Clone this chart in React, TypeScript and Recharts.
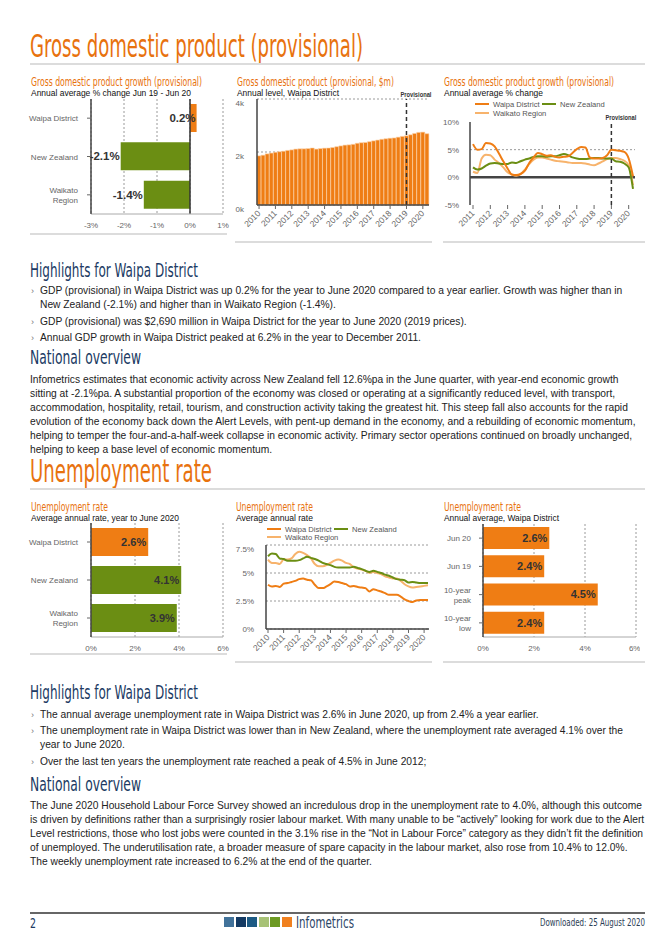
import React from 'react'
import { BarChart, Bar, LineChart, Line, XAxis, YAxis, CartesianGrid, ReferenceLine, Cell, LabelList } from 'recharts'

const ORANGE = '#ef7d14'
const GREEN = '#6b8e13'
const LIGHT = '#f7b36c'
const TITLE = '#e8720e'
const NAVY = '#203a63'
const SANS = '"Liberation Sans", Arial, sans-serif'
const COND = '"Liberation Sans Narrow", "DejaVu Sans Condensed", Roboto, sans-serif'

// GDP growth, year to Jun 2020
const gdpAreas = ['Waipa District', 'New Zealand', 'Waikato\nRegion']
const gdpGrowth = [0.2, -2.1, -1.4]
const gdpColors = [ORANGE, GREEN, GREEN]

// GDP level ($m), quarterly Mar 2010 - Jun 2020
const gdpLevel = [
  1855, 1880, 1930, 1960, 1990, 2010, 2030, 2060, 2080, 2110, 2120, 2120,
  2130, 2150, 2110, 2130, 2145, 2150, 2170, 2200, 2230, 2260, 2270, 2290,
  2330, 2350, 2360, 2390, 2420, 2450, 2480, 2500, 2520, 2530, 2560, 2590,
  2610, 2650, 2700, 2740, 2750, 2690,
]

// GDP growth %, quarterly Mar 2011 - Jun 2020
const growthWaipa = [
  6.0, 5.0, 5.1, 6.2, 6.1, 5.6, 4.3, 2.9, 1.6, 0.5, 0.4, 0.6,
  1.2, 2.6, 3.6, 4.4, 4.2, 3.9, 4.0, 3.7, 3.6, 3.7, 3.8, 4.4,
  5.1, 5.5, 5.4, 3.6, 3.4, 3.4, 3.5, 4.0, 5.0, 4.9, 4.8, 4.6, 3.4, 0.2,
]
const growthNZ = [
  1.8, 1.4, 1.6, 2.1, 2.5, 2.6, 2.5, 2.4, 2.4, 2.7, 2.6, 2.9,
  3.2, 3.4, 3.7, 3.8, 3.8, 3.7, 3.8, 3.8, 4.0, 4.2, 4.0, 3.6,
  3.4, 3.3, 3.3, 3.4, 3.5, 3.5, 3.4, 3.4, 3.4, 2.9, 2.8, 2.5, 1.8, -2.1,
]
const growthWaikato = [
  1.0, 0.8, 3.4, 4.1, 4.0, 3.2, 2.6, 1.8, 0.9, 0.5, 0.3, 0.6,
  1.4, 2.4, 3.2, 3.6, 3.6, 3.4, 3.2, 3.0, 2.9, 2.8, 2.7, 2.6,
  2.6, 2.6, 2.5, 2.3, 2.2, 2.5, 2.9, 3.3, 3.5, 3.5, 3.3, 3.0, 2.2, -1.4,
]

// Unemployment rate, year to Jun 2020
const unempAreas = ['Waipa District', 'New Zealand', 'Waikato\nRegion']
const unempRate = [2.6, 4.1, 3.9]
const unempColors = [ORANGE, GREEN, GREEN]

// Unemployment rate %, quarterly Mar 2010 - Jun 2020
const unempWaipa = [
  3.95, 3.8, 3.85, 3.75, 4.05, 4.1, 4.2, 4.3, 4.45, 4.5, 4.4, 4.35,
  3.95, 3.65, 3.65, 3.8, 4.0, 4.25, 4.2, 4.1, 4.0, 3.8, 3.85, 3.75,
  3.7, 3.65, 3.35, 3.55, 3.45, 3.35, 3.2, 3.05, 3.05, 3.05, 2.9, 2.65,
  2.5, 2.4, 2.55, 2.6, 2.6, 2.6,
]
const unempNZ = [
  6.5, 6.75, 6.7, 6.3, 6.25, 6.1, 6.1, 6.1, 6.15, 6.3, 6.45, 6.35,
  6.25, 6.1, 5.9, 5.8, 5.7, 5.55, 5.5, 5.5, 5.5, 5.5, 5.55, 5.45,
  5.35, 5.2, 5.1, 5.2, 5.1, 5.0, 4.85, 4.75, 4.6, 4.45, 4.4, 4.35,
  4.15, 4.2, 4.15, 4.1, 4.1, 4.1,
]
const unempWaikato = [
  6.2, 5.9, 5.9, 5.8, 6.2, 6.2, 6.3, 6.7, 6.9, 6.8, 6.6, 6.3,
  5.8, 5.6, 5.6, 5.7, 5.9, 6.1, 6.2, 6.1, 5.9, 5.8, 5.5, 5.4,
  5.3, 5.2, 5.0, 5.1, 5.0, 4.9, 4.7, 4.6, 4.5, 4.5, 4.3, 4.0,
  3.8, 3.7, 3.75, 3.8, 3.85, 3.9,
]

// Unemployment, Waipa District
const waipaPeriods = ['Jun 20', 'Jun 19', '10-year\npeak', '10-year\nlow']
const waipaRates = [2.6, 2.4, 4.5, 2.4]

const MONTHS = ['Mar', 'Jun', 'Sep', 'Dec']
const quarters = (startYear: number, count: number) =>
  Array.from({ length: count }, (_, i) => `${MONTHS[i % 4]} ${startYear + Math.floor(i / 4)}`)

const levelQuarters = quarters(2010, gdpLevel.length)
const growthQuarters = quarters(2011, growthWaipa.length)
const unempQuarters = quarters(2010, unempWaipa.length)

const gdpGrowthData = gdpAreas.map((name, i) => ({ name, value: gdpGrowth[i] }))
const gdpLevelData = levelQuarters.map((q, i) => ({ q, value: gdpLevel[i] }))
const growthData = growthQuarters.map((q, i) => ({ q, waipa: growthWaipa[i], nz: growthNZ[i], waikato: growthWaikato[i] }))
const unempBarData = unempAreas.map((name, i) => ({ name, value: unempRate[i] }))
const unempLineData = unempQuarters.map((q, i) => ({ q, waipa: unempWaipa[i], nz: unempNZ[i], waikato: unempWaikato[i] }))
const waipaData = waipaPeriods.map((name, i) => ({ name, value: waipaRates[i] }))

const tickStyle = { fontSize: 8, fill: '#666', fontFamily: SANS }

// y value tick, optionally nudged down
const valueTick = (shift: number) => (props: any) => {
  const { x, y, payload, tickFormatter } = props
  return (
    <text x={x} y={y + shift} dy="0.36em" textAnchor="end" fontSize={8} fill="#666" fontFamily={SANS}>
      {tickFormatter ? tickFormatter(payload.value) : payload.value}
    </text>
  )
}

const CatTick = (props: any) => {
  const { x, y, payload } = props
  const lines = String(payload.value).split('\n')
  return (
    <text x={x} y={y} textAnchor="end" fontSize={8} fill="#666" fontFamily={SANS}>
      {lines.map((l, i) => (
        <tspan key={i} x={x} dy={i === 0 ? 3 - (lines.length - 1) * 5 : 10}>{l}</tspan>
      ))}
    </text>
  )
}

const YearTick = (props: any) => {
  const { x, y, payload } = props
  const yr = String(payload.value).slice(4)
  return (
    <text x={x + 2} y={y + 3} transform={`rotate(-45 ${x + 2} ${y + 3})`} textAnchor="end" fontSize={8.5} fill="#666" fontFamily={SANS}>
      {yr}
    </text>
  )
}

const endLabel = (inset: number, size: number) => (props: any) => {
  const { x, y, width, height, value } = props
  const a = Number(x)
  const w = Number(width)
  const end = value >= 0 ? Math.max(a, a + w) : Math.min(a, a + w)
  return (
    <text x={end - inset} y={Number(y) + Number(height) / 2} dy="0.36em" textAnchor="end" fontSize={size} fontWeight="bold" fill="#333" fontFamily={SANS}>
      {`${value.toFixed(1)}%`}
    </text>
  )
}

const provLabel = (props: any) => {
  const vb = props.viewBox || {}
  return (
    <text x={vb.x - 6} y={vb.y - 2} fontSize={7.5} fontWeight="bold" fill="#333" fontFamily={SANS} textLength={31} lengthAdjust="spacingAndGlyphs">
      Provisional
    </text>
  )
}

// text squeezed to the width it has on the page
const Fit = ({ x, base, w, size, color, children, family = COND, weight = 'normal' }: any) => (
  <svg style={{ position: 'absolute', left: x, top: base - size * 0.78, overflow: 'visible' }} width={w + 2} height={size}>
    <text x={0} y={size * 0.78} fontSize={size} fill={color} fontFamily={family} fontWeight={weight} textLength={w} lengthAdjust="spacingAndGlyphs">
      {children}
    </text>
  </svg>
)

const Rule = ({ x, y, w, h = 2, color = '#dcdcdc' }: any) => (
  <div style={{ position: 'absolute', left: x, top: y, width: w, height: h, background: color }} />
)

const TextLine = ({ x = 30, y, children }: any) => (
  <div style={{ position: 'absolute', left: x, top: y - 6, height: 12, lineHeight: '12px', fontSize: 10.25, whiteSpace: 'nowrap', color: '#222' }}>
    {children}
  </div>
)

const Bullet = ({ y }: any) => (
  <div style={{ position: 'absolute', left: 31, top: y - 6, lineHeight: '12px', fontSize: 9, color: '#777' }}>›</div>
)

const LegendKey = ({ x, y, color, label }: any) => (
  <div style={{ position: 'absolute', left: x, top: y - 4, height: 8, display: 'flex', alignItems: 'center', whiteSpace: 'nowrap', fontSize: 7.6, color: '#555' }}>
    <div style={{ width: 14, height: 2, background: color, marginRight: 4 }} />
    <span>{label}</span>
  </div>
)

const Box = ({ x, y, children }: any) => (
  <div style={{ position: 'absolute', left: x, top: y }}>{children}</div>
)

function GdpGrowthBars() {
  return (
    <BarChart width={205} height={145} data={gdpGrowthData} layout="vertical" margin={{ top: 4, right: 7, bottom: 0, left: 0 }} style={{ fontFamily: SANS }}>
      <CartesianGrid horizontal={false} strokeDasharray="2 2" stroke="#9a9a9a" />
      <XAxis type="number" domain={[-3, 1]} ticks={[-3, -2, -1, 0, 1]} tickFormatter={(v: number) => `${v}%`} tick={tickStyle} height={26} axisLine={{ stroke: '#aaa' }} tickLine={false} />
      <YAxis type="category" dataKey="name" width={66} interval={0} tick={<CatTick />} tickSize={4} tickMargin={9} axisLine={{ stroke: '#444', strokeWidth: 1.5 }} tickLine={{ stroke: '#666' }} />
      <ReferenceLine x={0} stroke="#333" strokeWidth={1.5} />
      <Bar dataKey="value" barSize={28} isAnimationActive={false}>
        {gdpGrowthData.map((_, i) => <Cell key={i} fill={gdpColors[i]} />)}
        <LabelList dataKey="value" content={endLabel(1, 11.5)} />
      </Bar>
    </BarChart>
  )
}

function GdpLevelBars() {
  return (
    <BarChart width={200} height={156} data={gdpLevelData} margin={{ top: 13, right: 3, bottom: 0, left: 0 }} barCategoryGap={0} style={{ fontFamily: SANS }}>
      <CartesianGrid vertical={false} strokeDasharray="2 2" stroke="#9a9a9a" />
      <XAxis dataKey="q" interval={3} height={37} tick={<YearTick />} tickSize={4} tickMargin={2} axisLine={{ stroke: '#444', strokeWidth: 1.5 }} tickLine={{ stroke: '#666' }} />
      <YAxis domain={[0, 4000]} ticks={[0, 2000, 4000]} tickFormatter={(v: number) => `${v / 1000}k`} width={25} tick={valueTick(4)} tickSize={0} tickMargin={13} axisLine={{ stroke: '#444', strokeWidth: 1.5 }} tickLine={false} />
      <Bar dataKey="value" fill={ORANGE} stroke="#fbd3ab" strokeWidth={0.6} isAnimationActive={false} />
      <ReferenceLine x="Mar 2019" stroke="#333" strokeWidth={1.5} strokeDasharray="4 3" label={provLabel} />
    </BarChart>
  )
}

function GdpGrowthLines() {
  return (
    <LineChart width={200} height={145} data={growthData} margin={{ top: 24, right: 5, bottom: 0, left: 0 }} style={{ fontFamily: SANS }}>
      <XAxis dataKey="q" interval={3} height={38} padding={{ left: 3, right: 2 }} tick={<YearTick />} tickSize={4} tickMargin={2} axisLine={false} tickLine={{ stroke: '#666' }} />
      <YAxis domain={[-5, 10]} ticks={[-5, 0, 5, 10]} tickFormatter={(v: number) => `${v}%`} width={30} tick={valueTick(0)} tickSize={0} tickMargin={11} axisLine={{ stroke: '#444', strokeWidth: 1.5 }} tickLine={false} />
      <ReferenceLine y={5} stroke="#9a9a9a" strokeDasharray="2 2" />
      <ReferenceLine y={0} stroke="#444" strokeWidth={2.5} />
      <Line dataKey="waikato" stroke={LIGHT} strokeWidth={2} dot={false} type="monotone" isAnimationActive={false} />
      <Line dataKey="nz" stroke={GREEN} strokeWidth={2} dot={false} type="monotone" isAnimationActive={false} />
      <Line dataKey="waipa" stroke={ORANGE} strokeWidth={2} dot={false} type="monotone" isAnimationActive={false} />
      <ReferenceLine x="Mar 2019" stroke="#333" strokeWidth={1.5} strokeDasharray="4 3" label={provLabel} />
    </LineChart>
  )
}

function UnempBars() {
  return (
    <BarChart width={205} height={141} data={unempBarData} layout="vertical" margin={{ top: 4, right: 7, bottom: 0, left: 0 }} style={{ fontFamily: SANS }}>
      <CartesianGrid horizontal={false} strokeDasharray="2 2" stroke="#9a9a9a" />
      <XAxis type="number" domain={[0, 6]} ticks={[0, 2, 4, 6]} tickFormatter={(v: number) => `${v}%`} tick={tickStyle} height={23} axisLine={{ stroke: '#aaa' }} tickLine={false} />
      <YAxis type="category" dataKey="name" width={66} interval={0} tick={<CatTick />} tickSize={4} tickMargin={9} axisLine={{ stroke: '#444', strokeWidth: 1.5 }} tickLine={{ stroke: '#666' }} />
      <Bar dataKey="value" barSize={28} isAnimationActive={false}>
        {unempBarData.map((_, i) => <Cell key={i} fill={unempColors[i]} />)}
        <LabelList dataKey="value" content={endLabel(2, 11)} />
      </Bar>
    </BarChart>
  )
}

function UnempLines() {
  return (
    <LineChart width={200} height={125} data={unempLineData} margin={{ top: 5, right: 3, bottom: 0, left: 0 }} style={{ fontFamily: SANS }}>
      <CartesianGrid vertical={false} strokeDasharray="2 2" stroke="#9a9a9a" />
      <XAxis dataKey="q" interval={3} height={36} padding={{ left: 2, right: 1 }} tick={<YearTick />} tickSize={4} tickMargin={2} axisLine={{ stroke: '#444', strokeWidth: 1.5 }} tickLine={{ stroke: '#666' }} />
      <YAxis domain={[0, 7.5]} ticks={[0, 2.5, 5, 7.5]} tickFormatter={(v: number) => `${v}%`} width={34} tick={valueTick(0)} tickSize={0} tickMargin={12} axisLine={{ stroke: '#444', strokeWidth: 1.5 }} tickLine={false} />
      <Line dataKey="waikato" stroke={LIGHT} strokeWidth={2} dot={false} type="monotone" isAnimationActive={false} />
      <Line dataKey="nz" stroke={GREEN} strokeWidth={2} dot={false} type="monotone" isAnimationActive={false} />
      <Line dataKey="waipa" stroke={ORANGE} strokeWidth={2} dot={false} type="monotone" isAnimationActive={false} />
    </LineChart>
  )
}

function WaipaBars() {
  return (
    <BarChart width={200} height={140} data={waipaData} layout="vertical" margin={{ top: 4, right: 4, bottom: 0, left: 0 }} style={{ fontFamily: SANS }}>
      <CartesianGrid horizontal={false} strokeDasharray="2 2" stroke="#9a9a9a" />
      <XAxis type="number" domain={[0, 6]} ticks={[0, 2, 4, 6]} tickFormatter={(v: number) => `${v}%`} tick={tickStyle} height={23} axisLine={{ stroke: '#aaa' }} tickLine={false} />
      <YAxis type="category" dataKey="name" width={43} interval={0} tick={<CatTick />} tickSize={4} tickMargin={8} axisLine={{ stroke: '#444', strokeWidth: 1.5 }} tickLine={{ stroke: '#666' }} />
      <Bar dataKey="value" barSize={22} fill={ORANGE} isAnimationActive={false}>
        <LabelList dataKey="value" content={endLabel(2, 11)} />
      </Bar>
    </BarChart>
  )
}

export default function App() {
  return (
    <div style={{ position: 'absolute', left: 0, top: 0, width: 668, height: 946, background: '#fff', overflow: 'hidden', fontFamily: SANS }}>
      {/* GDP section */}
      <Fit x={30} base={57} w={333} size={32} color={TITLE}>Gross domestic product (provisional)</Fit>
      <Rule x={30} y={63} w={615} />

      <Fit x={31} base={86} w={171} size={12} color={TITLE}>Gross domestic product growth (provisional)</Fit>
      <Fit x={31} base={96} w={160} size={9.5} color="#111" family={SANS}>Annual average % change Jun 19 - Jun 20</Fit>
      <Fit x={237} base={86} w={157} size={12} color={TITLE}>Gross domestic product (provisional, $m)</Fit>
      <Fit x={237} base={96} w={102} size={9.5} color="#111" family={SANS}>Annual level, Waipa District</Fit>
      <Fit x={444} base={86} w={170} size={12} color={TITLE}>Gross domestic product growth (provisional)</Fit>
      <Fit x={444} base={96} w={99} size={9.5} color="#111" family={SANS}>Annual average % change</Fit>

      <Box x={25} y={95}><GdpGrowthBars /></Box>
      <Box x={232} y={86}><GdpLevelBars /></Box>
      <Box x={440} y={98}><GdpGrowthLines /></Box>
      <LegendKey x={475} y={104} color={ORANGE} label="Waipa District" />
      <LegendKey x={542} y={104} color={GREEN} label="New Zealand" />
      <LegendKey x={475} y={113} color={LIGHT} label="Waikato Region" />

      <Rule x={30} y={233} w={197} />
      <Rule x={235} y={241} w={197} />
      <Rule x={443} y={241} w={202} />

      <Fit x={30} base={277} w={168} size={20} color={NAVY}>Highlights for Waipa District</Fit>
      <Bullet y={291} />
      <TextLine x={40} y={291}>GDP (provisional) in Waipa District was up 0.2% for the year to June 2020 compared to a year earlier. Growth was higher than in</TextLine>
      <TextLine x={40} y={305}>New Zealand (-2.1%) and higher than in Waikato Region (-1.4%).</TextLine>
      <Bullet y={322} />
      <TextLine x={40} y={322}>GDP (provisional) was $2,690 million in Waipa District for the year to June 2020 (2019 prices).</TextLine>
      <Bullet y={338} />
      <TextLine x={40} y={338}>Annual GDP growth in Waipa District peaked at 6.2% in the year to December 2011.</TextLine>

      <Fit x={30} base={364} w={111} size={20} color={NAVY}>National overview</Fit>
      <TextLine y={380}>Infometrics estimates that economic activity across New Zealand fell 12.6%pa in the June quarter, with year-end economic growth</TextLine>
      <TextLine y={394}>sitting at -2.1%pa. A substantial proportion of the economy was closed or operating at a significantly reduced level, with transport,</TextLine>
      <TextLine y={408}>accommodation, hospitality, retail, tourism, and construction activity taking the greatest hit. This steep fall also accounts for the rapid</TextLine>
      <TextLine y={422}>evolution of the economy back down the Alert Levels, with pent-up demand in the economy, and a rebuilding of economic momentum,</TextLine>
      <TextLine y={436}>helping to temper the four-and-a-half-week collapse in economic activity. Primary sector operations continued on broadly unchanged,</TextLine>
      <TextLine y={450}>helping to keep a base level of economic momentum.</TextLine>

      {/* Unemployment section */}
      <Fit x={30} base={482} w={182} size={32} color={TITLE}>Unemployment rate</Fit>
      <Rule x={30} y={488} w={615} />

      <Fit x={31} base={511} w={77} size={12} color={TITLE}>Unemployment rate</Fit>
      <Fit x={31} base={521} w={148} size={9.5} color="#111" family={SANS}>Average annual rate, year to June 2020</Fit>
      <Fit x={236} base={511} w={77} size={12} color={TITLE}>Unemployment rate</Fit>
      <Fit x={236} base={521} w={77} size={9.5} color="#111" family={SANS}>Average annual rate</Fit>
      <Fit x={444} base={511} w={77} size={12} color={TITLE}>Unemployment rate</Fit>
      <Fit x={444} base={521} w={115} size={9.5} color="#111" family={SANS}>Annual average, Waipa District</Fit>

      <Box x={25} y={519}><UnempBars /></Box>
      <Box x={232} y={540}><UnempLines /></Box>
      <LegendKey x={267} y={529} color={ORANGE} label="Waipa District" />
      <LegendKey x={334} y={529} color={GREEN} label="New Zealand" />
      <LegendKey x={267} y={537} color={LIGHT} label="Waikato Region" />
      <Box x={440} y={520}><WaipaBars /></Box>

      <Rule x={30} y={653} w={197} />
      <Rule x={235} y={661} w={197} />
      <Rule x={443} y={661} w={202} />

      <Fit x={30} base={699} w={168} size={20} color={NAVY}>Highlights for Waipa District</Fit>
      <Bullet y={715} />
      <TextLine x={40} y={715}>The annual average unemployment rate in Waipa District was 2.6% in June 2020, up from 2.4% a year earlier.</TextLine>
      <Bullet y={731} />
      <TextLine x={40} y={731}>The unemployment rate in Waipa District was lower than in New Zealand, where the unemployment rate averaged 4.1% over the</TextLine>
      <TextLine x={40} y={745}>year to June 2020.</TextLine>
      <Bullet y={762} />
      <TextLine x={40} y={762}>Over the last ten years the unemployment rate reached a peak of 4.5% in June 2012;</TextLine>

      <Fit x={30} base={791} w={111} size={20} color={NAVY}>National overview</Fit>
      <TextLine y={806}>The June 2020 Household Labour Force Survey showed an incredulous drop in the unemployment rate to 4.0%, although this outcome</TextLine>
      <TextLine y={820}>is driven by definitions rather than a surprisingly rosier labour market. With many unable to be “actively” looking for work due to the Alert</TextLine>
      <TextLine y={834}>Level restrictions, those who lost jobs were counted in the 3.1% rise in the “Not in Labour Force” category as they didn’t fit the definition</TextLine>
      <TextLine y={848}>of unemployed. The underutilisation rate, a broader measure of spare capacity in the labour market, also rose from 10.4% to 12.0%.</TextLine>
      <TextLine y={862}>The weekly unemployment rate increased to 6.2% at the end of the quarter.</TextLine>

      {/* Footer */}
      <Rule x={30} y={912} w={615} h={1.5} color="#666" />
      <Fit x={30} base={928} w={6} size={14} color={NAVY}>2</Fit>
      {['#41729a', '#143a63', '#1d5a84', '#a7c276', '#6d9a23', '#f0801f'].map((c, i) => (
        <div key={c} style={{ position: 'absolute', left: 224 + i * 11.5, top: 917, width: 10, height: 10, background: c }} />
      ))}
      <Fit x={296} base={928} w={58} size={15} color="#2c4566">Infometrics</Fit>
      <Fit x={540} base={926} w={105} size={10.5} color="#2c3e55">Downloaded: 25 August 2020</Fit>
    </div>
  )
}
